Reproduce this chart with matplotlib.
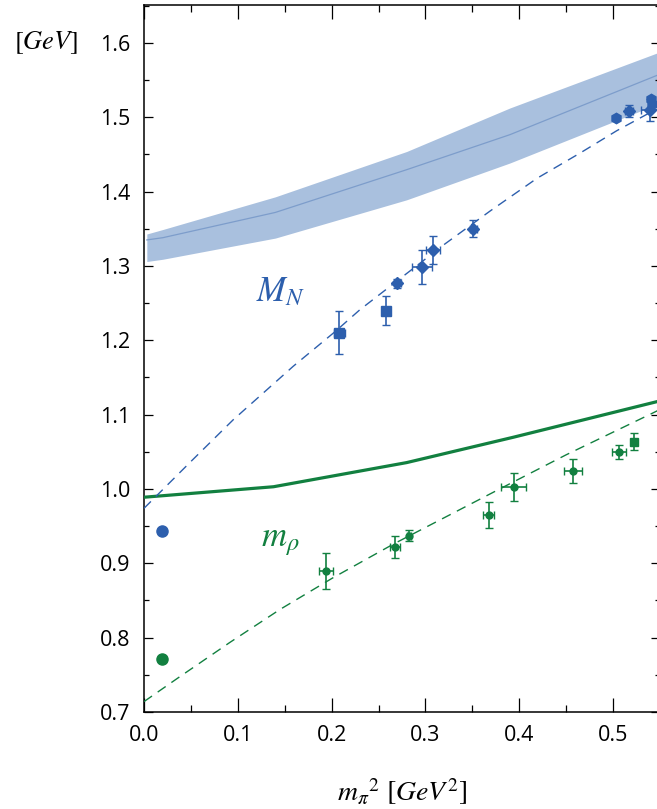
import numpy as np
import matplotlib
matplotlib.use("Agg")
import matplotlib.pyplot as plt
from matplotlib.ticker import MultipleLocator

plt.rcParams['font.family'] = ['Open Sans', 'DejaVu Sans']
plt.rcParams['mathtext.fontset'] = 'stix'

BLUE = '#2d5fad'
GREEN = '#128040'
BAND = '#a9c0de'
BAND_LINE = '#7d9dcb'

# lattice nucleon band (centre and 1-sigma limits)
band_x = [0.003, 0.02, 0.14, 0.28, 0.39, 0.55]
band_mid = [1.335, 1.338, 1.372, 1.4295, 1.4766, 1.558]
band_lo = [1.306, 1.309, 1.3375, 1.389, 1.4385, 1.519]
band_hi = [1.343, 1.349, 1.393, 1.454, 1.5125, 1.588]

# rho curve (solid)
rho_x = [0.001, 0.138, 0.28, 0.394, 0.55]
rho_y = [0.989, 1.003, 1.0355, 1.0697, 1.1185]

# chiral fits (dashed)
mn_fit_x = [0.0, 0.05, 0.095, 0.159, 0.204, 0.23, 0.319, 0.369, 0.419, 0.465, 0.504, 0.536, 0.55]
mn_fit_y = [0.974, 1.037, 1.093, 1.165, 1.212, 1.241, 1.328, 1.374, 1.418, 1.452, 1.482, 1.504, 1.513]
mr_fit_x = [0.0, 0.037, 0.092, 0.145, 0.202, 0.266, 0.376, 0.45, 0.542, 0.55]
mr_fit_y = [0.714, 0.7465, 0.794, 0.838, 0.881, 0.926, 0.998, 1.046, 1.102, 1.107]

# nucleon lattice points
mn_x = [0.270, 0.296, 0.308, 0.351, 0.517, 0.539]
mn_y = [1.277, 1.299, 1.321, 1.350, 1.508, 1.510]
mn_xerr = [0.004, 0.0107, 0.0078, 0.004, 0.004, 0.0098]
mn_yerr = [0.006, 0.0229, 0.019, 0.0117, 0.008, 0.015]
mn_sq_x = [0.208, 0.258]
mn_sq_y = [1.210, 1.240]
mn_sq_xerr = [0.006, 0.004]
mn_sq_yerr = [0.029, 0.020]
mn_hex_x = [0.503, 0.540, 0.541]
mn_hex_y = [1.499, 1.525, 1.518]

# rho lattice points
mr_x = [0.194, 0.2676, 0.2825, 0.3674, 0.394, 0.457, 0.506]
mr_y = [0.890, 0.9225, 0.9373, 0.9651, 1.0024, 1.0244, 1.0495]
mr_xerr = [0.0071, 0.0057, 0.002, 0.006, 0.013, 0.0096, 0.0075]
mr_yerr = [0.024, 0.0148, 0.0079, 0.0175, 0.019, 0.0157, 0.009]
mr_sq_x = [0.5224]
mr_sq_y = [1.0638]
mr_sq_yerr = [0.011]

# physical values
phys_x = 0.0195
phys_mn = 0.944
phys_mr = 0.771

fig = plt.figure(figsize=(6.57, 8.09), dpi=100)
ax = fig.add_axes([0.2192, 0.1199, 0.7854, 0.8739])

ax.fill_between(band_x, band_lo, band_hi, color=BAND, lw=0, zorder=1)
ax.plot(band_x, band_mid, color=BAND_LINE, lw=0.9, zorder=2)

ax.plot(rho_x, rho_y, color=GREEN, lw=2.3, zorder=3)
ax.plot(mn_fit_x, mn_fit_y, color=BLUE, lw=1.0, dashes=(7, 5), zorder=3)
ax.plot(mr_fit_x, mr_fit_y, color=GREEN, lw=1.0, dashes=(7, 5), zorder=3)

eb = dict(ls='none', capsize=3, elinewidth=1.2, capthick=1.0, zorder=4)
ax.errorbar(mn_x, mn_y, xerr=mn_xerr, yerr=mn_yerr, fmt='D', ms=6,
            color=BLUE, **eb)
ax.errorbar(mn_sq_x, mn_sq_y, xerr=mn_sq_xerr, yerr=mn_sq_yerr, fmt='s',
            ms=7.5, color=BLUE, **eb)
ax.plot(mn_hex_x, mn_hex_y, 'h', ms=7.5, color=BLUE, zorder=4)
ax.errorbar(mr_x, mr_y, xerr=mr_xerr, yerr=mr_yerr, fmt='o', ms=5,
            color=GREEN, **eb)
ax.errorbar(mr_sq_x, mr_sq_y, yerr=mr_sq_yerr, fmt='s', ms=5.5,
            color=GREEN, **eb)

ax.plot([phys_x], [phys_mn], 'o', ms=8, color=BLUE, zorder=5)
ax.plot([phys_x], [phys_mr], 'o', ms=8, color=GREEN, zorder=5)

ax.text(0.146, 1.265, r'$M_N$', color=BLUE, fontsize=25,
        ha='center', va='center')
ax.text(0.145, 0.93, r'$m_\rho$', color=GREEN, fontsize=25,
        ha='center', va='center')

ax.set_xlim(0, 0.55)
ax.set_ylim(0.7, 1.651)
ax.xaxis.set_major_locator(MultipleLocator(0.1))
ax.xaxis.set_minor_locator(MultipleLocator(0.05))
ax.yaxis.set_major_locator(MultipleLocator(0.1))
ax.yaxis.set_minor_locator(MultipleLocator(0.05))
ax.xaxis.set_major_formatter(plt.FuncFormatter(lambda v, p: f'{v:.1f}'))
ax.yaxis.set_major_formatter(plt.FuncFormatter(lambda v, p: f'{v:.1f}'))
ax.tick_params(which='both', direction='in', top=True, right=True,
               labelsize=15.5, width=0.9, colors='black')
ax.tick_params(axis='x', which='major', length=10, pad=9)
ax.tick_params(axis='x', which='minor', length=5)
ax.tick_params(axis='y', which='major', length=6.5, pad=10)
ax.tick_params(axis='y', which='minor', length=3.5)
for s in ax.spines.values():
    s.set_linewidth(1.1)

ax.set_xlabel(r'$m_{\pi}{}^{2}\ [GeV^{2}]$', fontsize=20, labelpad=23)
fig.text(46 / 657, 1 - 43 / 809, r'$[GeV]$', fontsize=19,
         ha='center', va='center')

fig.savefig('out.png', dpi=100)
